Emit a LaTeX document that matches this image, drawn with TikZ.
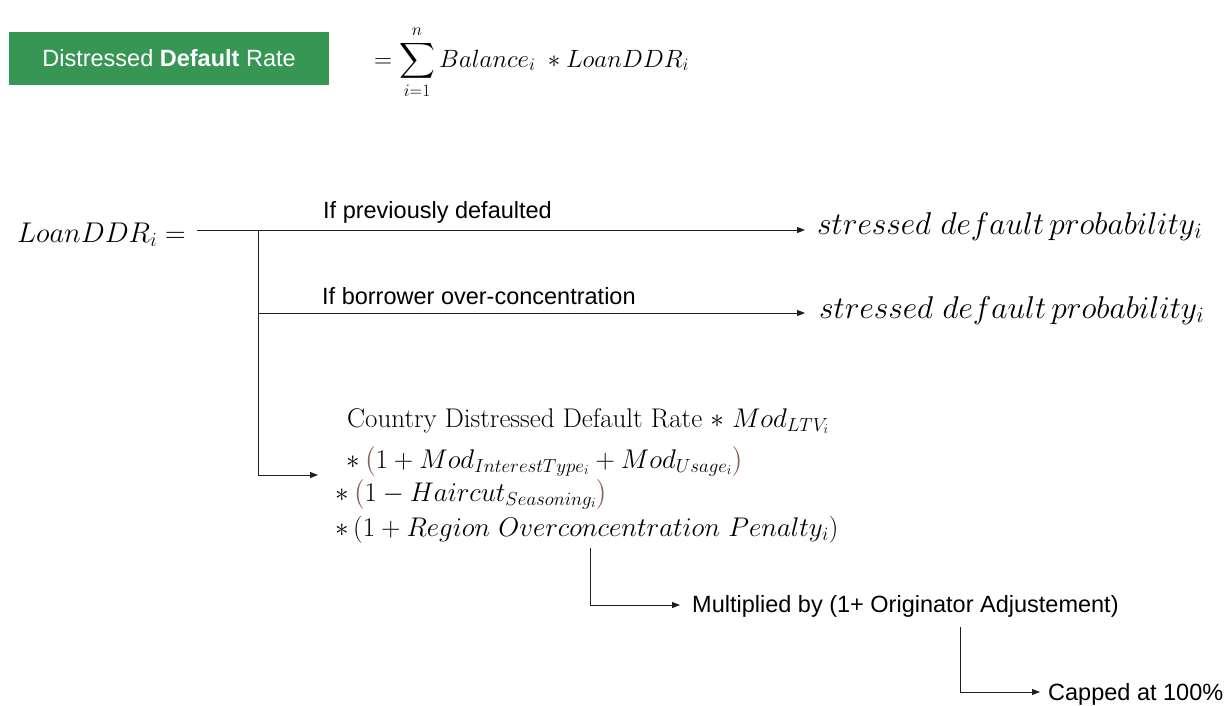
\RequirePackage{fix-cm}
\documentclass[tikz,border=0pt]{standalone}
\usepackage{exscale}
\usepackage{fontspec}
\setsansfont{Liberation Sans}
\usetikzlibrary{arrows.meta}
\definecolor{boxgreen}{RGB}{56,150,84}
\definecolor{parbrown}{RGB}{140,100,92}
\definecolor{linegray}{RGB}{30,30,30}
\newcommand{\bp}[1]{\textcolor{parbrown}{#1}}
\begin{document}
\begin{tikzpicture}[x=1pt,y=-1pt,
  conn/.style={draw=linegray,line width=1pt},
  arr/.style={conn,-{Triangle[length=8pt,width=6pt]}},
  lbl/.style={font=\sffamily\fontsize{23.5}{27}\selectfont,inner sep=0pt,anchor=base west},
  mth/.style={inner sep=0pt,anchor=base west},
  fml/.style={mth,font=\fontsize{27}{32}\selectfont}]
\useasboundingbox (0,0) rectangle (1224,705);
% header
\node[fill=boxgreen,minimum width=320pt,minimum height=53pt,inner sep=0pt,text=white,font=\sffamily\fontsize{23.5}{27}\selectfont] (box) at (169,58.5) {Distressed \textbf{Default} Rate};
\node[mth,font=\fontsize{25}{30}\selectfont] (sum) at (374,67) {$\displaystyle = \sum_{i=1}^{n} Balance_i\; * LoanDDR_i$};
% LoanDDR
\node[mth,font=\fontsize{28.5}{34}\selectfont] (ldr) at (17,242) {$LoanDDR_i =$};
\coordinate (ls) at (197,230);
\coordinate (br) at (258,230);
\coordinate (brm) at (258,313);
\coordinate (brb) at (258,475);
\coordinate (e1) at (805,230);
\coordinate (e2) at (805,313);
\coordinate (e3) at (318,475);
\node[mth,font=\fontsize{31.5}{36}\selectfont] (sdp1) at (817,234) {$stressed\ default\,probability_i$};
\node[mth,font=\fontsize{31.5}{36}\selectfont] (sdp2) at (819,318) {$stressed\ default\,probability_i$};
\draw[conn] (ls) -- (br);
\draw[arr] (br) -- (e1);
\draw[conn] (br) -- (brb);
\draw[arr] (brm) -- (e2);
\node[lbl] (l1) at (323,218) {If previously defaulted};
\node[lbl] (l2) at (322,304) {If borrower over-concentration};
% formula block
\node[fml] (f1) at (347,427) {Country Distressed Default Rate $*$ $Mod_{LTV_i}$};
\node[fml] (f2) at (346,468) {$*\,\bp{\bigl(}1 + Mod_{InterestType_i} + Mod_{Usage_i}\bp{\bigr)}$};
\node[fml] (f3) at (335,501) {$*\,\bp{\bigl(}1 - Haircut_{Seasoning_i}\bp{\bigr)}$};
\node[fml] (f4) at (335,536) {$*\,(1 + Region\ Overconcentration\ Penalty_i)$};
\draw[arr] (brb) -- (e3);
% multiplied
\node[lbl] (mult) at (692,612) {Multiplied by (1+ Originator Adjustement)};
\coordinate (m0) at (590,548);
\coordinate (m1) at (590,605);
\coordinate (m2) at (680,605);
\draw[arr] (m0) -- (m1) -- (m2);
\node[lbl] (cap) at (1048,700) {Capped at 100\%};
\coordinate (c0) at (960,627);
\coordinate (c1) at (960,692);
\coordinate (c2) at (1040,692);
\draw[arr] (c0) -- (c1) -- (c2);
\end{tikzpicture}
\end{document}
